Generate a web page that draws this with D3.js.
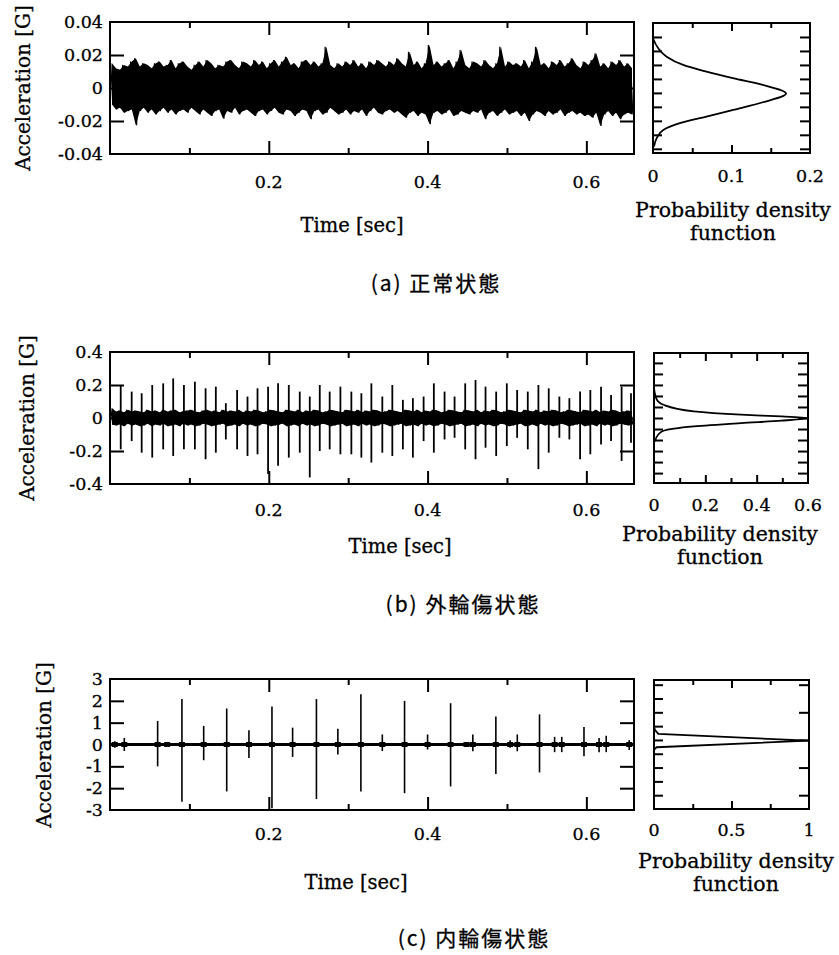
<!DOCTYPE html>
<html><head><meta charset="utf-8">
<script src="https://cdn.jsdelivr.net/npm/d3@7"></script>
<style>body{margin:0;background:#fff}svg{display:block}</style>
</head><body>
<svg id="chart" width="839" height="955"></svg>
<script>
// ---------------- DATA ----------------
const timeDomain = [0, 0.66];
const timeMajorTicks = [0.2, 0.4, 0.6];
const timeMinorTicks = [0.1, 0.3, 0.5];
const timeTickLabels = ["0.2", "0.4", "0.6"];
const binWidth = 0.005; // s, envelope bins of the dense signals

// (a) normal state: per-bin max / min acceleration [G]
const accA_hi = [.015,.012,.011,.014,.013,.016,.018,.013,.015,.014,
  .012,.015,.016,.013,.014,.017,.012,.015,.016,.013,
  .011,.014,.016,.013,.017,.015,.012,.014,.013,.016,
  .017,.014,.012,.016,.015,.013,.017,.014,.016,.012,
  .015,.017,.013,.016,.019,.014,.015,.012,.016,.017,
  .014,.016,.013,.015,.025,.014,.012,.015,.013,.016,
  .014,.017,.013,.015,.012,.016,.014,.017,.015,.013,
  .016,.014,.018,.015,.013,.022,.014,.016,.012,.015,
  .026,.014,.016,.013,.015,.017,.012,.016,.023,.014,
  .012,.016,.015,.013,.017,.014,.012,.015,.025,.013,
  .016,.014,.015,.013,.017,.012,.016,.025,.014,.015,
  .012,.016,.014,.017,.013,.015,.018,.014,.012,.016,
  .014,.017,.021,.013,.015,.012,.016,.014,.017,.013,.015,.012];
const accA_lo = [-.010,-.013,-.012,-.015,-.014,-.013,-.0226,-.014,-.012,-.015,
  -.013,-.016,-.014,-.012,-.015,-.013,-.016,-.014,-.013,-.015,
  -.012,-.014,-.016,-.013,-.015,-.017,-.014,-.013,-.0186,-.014,
  -.015,-.012,-.016,-.014,-.013,-.015,-.017,-.014,-.013,-.016,
  -.014,-.012,-.015,-.016,-.013,-.014,-.017,-.015,-.013,-.014,
  -.019,-.014,-.013,-.016,-.015,-.012,-.014,-.016,-.015,-.013,
  -.016,-.014,-.015,-.013,-.017,-.014,-.012,-.015,-.016,-.014,
  -.013,-.015,-.014,-.016,-.018,-.015,-.014,-.017,-.015,-.016,
  -.022,-.015,-.014,-.016,-.015,-.013,-.017,-.016,-.014,-.015,
  -.016,-.014,-.015,-.013,-.019,-.015,-.014,-.017,-.015,-.013,
  -.016,-.015,-.014,-.017,-.015,-.020,-.016,-.014,-.015,-.017,
  -.014,-.016,-.015,-.013,-.017,-.015,-.014,-.016,-.015,-.017,
  -.016,-.018,-.015,-.023,-.016,-.014,-.017,-.015,-.019,-.016,-.015,-.016];
const accATicks = [-0.04, -0.02, 0, 0.02, 0.04];
const accATickLabels = ["-0.04", "-0.02", "0", "0.02", "0.04"];

// (a) probability density
const pdfA_acc = [0.0391,0.0319,0.0259,0.0200,0.0152,0.0105,0.0057,-0.0005,-0.0067,-0.0122,-0.0170,-0.0217,-0.0265,-0.0324,-0.0384];
const pdfA_val = [0.0,0.0067,0.0174,0.0384,0.0681,0.1018,0.1399,0.1695,0.1399,0.1018,0.0681,0.0342,0.0131,0.0047,0.0013];
const pdfAAccTicks = [-0.04,-0.03,-0.02,-0.01,0,0.01,0.02,0.03,0.04];
const pdfAValTicks = [0.05, 0.1, 0.15];
const pdfALabels = [[0,"0"],[0.1,"0.1"],[0.2,"0.2"]];

// (b) outer-race defect: baseline envelope + impulses
const accB_hi = [.060,.040,.045,.035,.050,.040,.045,.040,.035,.050,
  .040,.045,.035,.050,.040,.045,.050,.035,.040,.045,
  .050,.040,.035,.045,.050,.040,.045,.035,.050,.040,
  .045,.040,.050,.035,.045,.040,.050,.045,.035,.040,
  .050,.045,.040,.035,.050,.045,.040,.050,.035,.045,
  .040,.050,.045,.035,.040,.050,.045,.040,.035,.050,
  .045,.040,.050,.035,.045,.040,.050,.045,.035,.040,
  .050,.045,.040,.035,.050,.045,.040,.050,.035,.045,
  .040,.050,.045,.035,.040,.050,.045,.040,.035,.050,
  .045,.040,.050,.035,.045,.040,.050,.045,.035,.040,
  .050,.045,.040,.035,.050,.045,.040,.050,.035,.045,
  .040,.050,.045,.035,.040,.050,.045,.040,.035,.050,
  .045,.040,.050,.035,.045,.040,.050,.045,.035,.040,.045,.040];
const accB_lo = [-.040,-.045,-.040,-.050,-.035,-.045,-.040,-.050,-.045,-.035,
  -.050,-.040,-.045,-.035,-.050,-.045,-.040,-.050,-.035,-.045,
  -.040,-.050,-.045,-.035,-.040,-.050,-.045,-.040,-.035,-.050,
  -.045,-.040,-.050,-.035,-.045,-.040,-.050,-.045,-.035,-.040,
  -.050,-.045,-.040,-.035,-.050,-.045,-.040,-.050,-.035,-.045,
  -.040,-.050,-.045,-.035,-.040,-.050,-.045,-.040,-.035,-.050,
  -.045,-.040,-.050,-.035,-.045,-.040,-.050,-.045,-.035,-.040,
  -.050,-.045,-.040,-.035,-.050,-.045,-.040,-.050,-.035,-.045,
  -.040,-.050,-.045,-.035,-.040,-.050,-.045,-.040,-.035,-.050,
  -.045,-.040,-.050,-.035,-.045,-.040,-.050,-.045,-.035,-.040,
  -.050,-.045,-.040,-.035,-.050,-.045,-.040,-.050,-.035,-.045,
  -.040,-.050,-.045,-.035,-.040,-.050,-.045,-.040,-.035,-.050,
  -.045,-.040,-.050,-.035,-.045,-.040,-.050,-.045,-.035,-.040,-.045,-.040];
const spikeB_t = [0.0135,0.0273,0.0399,0.0532,0.0670,0.0796,0.0931,0.1069,0.1204,0.1333,
  0.1459,0.1601,0.1732,0.1858,0.1991,0.2117,0.2252,0.2390,0.2516,0.2642,
  0.2767,0.2902,0.3040,0.3166,0.3292,0.3430,0.3556,0.3689,0.3815,0.3950,
  0.4079,0.4214,0.4340,0.4474,0.4604,0.4730,0.4864,0.4998,0.5128,0.5262,
  0.5396,0.5526,0.5660,0.5786,0.5921,0.6050,0.6185,0.6311,0.6444,0.6562];
const spikeB_max = [0.2,0.16,0.15,0.2,0.21,0.24,0.2,0.22,0.18,0.19,
  0.09,0.17,0.13,0.18,0.19,0.21,0.2,0.16,0.13,0.2,
  0.16,0.19,0.16,0.15,0.21,0.13,0.2,0.11,0.12,0.13,
  0.21,0.16,0.13,0.21,0.23,0.19,0.16,0.21,0.17,0.16,
  0.2,0.18,0.13,0.12,0.16,0.17,0.19,0.14,0.19,0.15];
const spikeB_min = [-0.19,-0.14,-0.21,-0.24,-0.19,-0.23,-0.19,-0.19,-0.25,-0.21,
  -0.13,-0.19,-0.23,-0.22,-0.34,-0.29,-0.24,-0.21,-0.36,-0.2,
  -0.19,-0.22,-0.22,-0.24,-0.27,-0.21,-0.23,-0.19,-0.24,-0.14,
  -0.21,-0.13,-0.12,-0.19,-0.25,-0.18,-0.23,-0.17,-0.12,-0.19,
  -0.31,-0.21,-0.12,-0.13,-0.25,-0.22,-0.16,-0.14,-0.26,-0.15];
const accBTicks = [-0.4, -0.2, 0, 0.2, 0.4];
const accBTickLabels = ["-0.4", "-0.2", "0", "0.2", "0.4"];

const pdfB_acc = [0.136,0.083,0.060,0.030,0.015,0.007,0,-0.012,-0.023,-0.038,-0.058,-0.076,-0.106];
const pdfB_val = [0,0.011,0.037,0.155,0.339,0.497,0.6,0.497,0.339,0.155,0.037,0.016,0.004];
const pdfBAccTicks = [-0.25,-0.2,-0.15,-0.1,-0.05,0,0.05,0.1,0.15,0.2,0.25];
const pdfBValTicks = [0.1,0.2,0.3,0.4,0.5];
const pdfBLabels = [[0,"0"],[0.2,"0.2"],[0.4,"0.4"],[0.6,"0.6"]];

// (c) inner-race defect: impulses
const spikeC_t = [0.006,0.018,0.060,0.072,0.0906,0.118,0.147,0.175,0.204,0.230,
  0.260,0.287,0.316,0.343,0.371,0.400,0.429,0.449,0.457,0.486,
  0.504,0.513,0.541,0.560,0.569,0.597,0.616,0.625,0.654];
const spikeC_max = [0.15,0.3,1.08,0.12,2.08,0.85,1.65,0.65,1.74,0.77,
  2.08,0.72,2.3,0.46,2.0,0.46,1.89,0.1,0.46,1.28,
  0.2,0.46,1.38,0.35,0.35,0.8,0.3,0.4,0.2];
const spikeC_min = [-0.15,-0.3,-1.0,-0.12,-2.62,-0.72,-2.15,-0.62,-2.92,-0.57,
  -2.5,-0.46,-2.15,-0.3,-2.23,-0.23,-1.92,-0.1,-0.31,-1.35,
  -0.15,-0.31,-1.28,-0.35,-0.35,-0.54,-0.35,-0.35,-0.25];
const accCTicks = [-3,-2,-1,0,1,2,3];
const accCTickLabels = ["-3","-2","-1","0","1","2","3"];

const pdfC_acc = [0.48,0.36,0.217,-0.025,-0.264,-0.36];
const pdfC_val = [0,0.0065,0.028,1.0,0.017,0];
const pdfCAccTicksLeft = [-2,-1.5,-1,-0.5,0,0.5,1,1.5,2];
const pdfCAccTicksRight = [-2,-1,0,1,2];
const pdfCValTicks = [0.25,0.5,0.75];
const pdfCLabels = [[0,"0"],[0.5,"0.5"],[1,"1"]];

const yTitle = "Acceleration [G]";
const xTitle = "Time [sec]";
const pdfTitle1 = "Probability density";
const pdfTitle2 = "function";
const captions = ["(a) 正常状態", "(b) 外輪傷状態", "(c) 内輪傷状態"];

// ---------------- DRAWING ----------------
const svg = d3.select("#chart");
const SERIF = "'DejaVu Serif', 'Liberation Serif', serif";
const CJK = "'Noto Sans CJK JP', 'Noto Sans', sans-serif";
let clipId = 0;

function ink(sel, w) { return sel.attr("fill", "#000").attr("stroke", "#000").attr("stroke-width", w); }

function inwardAxis(g, axisFn, scale, values, size, transform) {
  const a = g.append("g").attr("transform", transform)
    .call(axisFn(scale).tickValues(values).tickSize(-size).tickFormat(""));
  a.select(".domain").remove();
  a.selectAll("line").attr("stroke", "#000").attr("stroke-width", 2);
}

function frame(g, L) {
  g.append("rect").attr("x", L.left).attr("y", L.top)
    .attr("width", L.right - L.left).attr("height", L.bottom - L.top)
    .attr("fill", "none").attr("stroke", "#000").attr("stroke-width", 2);
}

function timePanel(L, yDomain, yTicks, yLabels, drawSignal) {
  const g = svg.append("g");
  const x = d3.scaleLinear().domain(timeDomain).range([L.left, L.right]);
  const y = d3.scaleLinear().domain(yDomain).range([L.bottom, L.top]);
  const id = "clip" + (clipId++);
  g.append("clipPath").attr("id", id).append("rect")
    .attr("x", L.left).attr("y", L.top).attr("width", L.right - L.left).attr("height", L.bottom - L.top);
  const sg = g.append("g").attr("clip-path", `url(#${id})`);
  drawSignal(sg, x, y);
  frame(g, L);
  inwardAxis(g, d3.axisTop, x, timeMajorTicks, 13, `translate(0,${L.top})`);
  inwardAxis(g, d3.axisBottom, x, timeMajorTicks, 13, `translate(0,${L.bottom})`);
  inwardAxis(g, d3.axisTop, x, timeMinorTicks, 6, `translate(0,${L.top})`);
  inwardAxis(g, d3.axisBottom, x, timeMinorTicks, 6, `translate(0,${L.bottom})`);
  const inner = yTicks.slice(1, -1);
  inwardAxis(g, d3.axisLeft, y, inner, 14, `translate(${L.left},0)`);
  inwardAxis(g, d3.axisRight, y, inner, 14, `translate(${L.right},0)`);
  g.selectAll(".yl").data(yTicks).enter().append("text")
    .attr("x", 103).attr("y", d => y(d)).attr("text-anchor", "end")
    .attr("dominant-baseline", "central").attr("font-family", SERIF).attr("font-size", 17.5)
    .call(ink, 0.3).text((d, i) => yLabels[i]);
  g.selectAll(".xl").data(timeMajorTicks).enter().append("text")
    .attr("x", d => x(d)).attr("y", L.xLabelY).attr("text-anchor", "middle")
    .attr("font-family", SERIF).attr("font-size", 17.5)
    .call(ink, 0.3).text((d, i) => timeTickLabels[i]);
  g.append("text").attr("transform", `translate(${L.yTitleX},${L.yTitleY}) rotate(-90)`)
    .attr("text-anchor", "middle").attr("dominant-baseline", "central")
    .attr("font-family", SERIF).attr("font-size", 20).call(ink, 0.3).text(yTitle);
  g.append("text").attr("x", L.xTitleX).attr("y", L.xTitleY).attr("text-anchor", "middle")
    .attr("font-family", SERIF).attr("font-size", 19.5).call(ink, 0.3).text(xTitle);
  return {x, y};
}

function pdfPanel(L, pdfDomain, accDomain, accTicksL, accTicksR, valTicks, labels, accs, vals, curve) {
  const g = svg.append("g");
  const x = d3.scaleLinear().domain(pdfDomain).range([L.left, L.right]);
  const y = d3.scaleLinear().domain(accDomain).range([L.bottom, L.top]);
  const pts = accs.map((a, i) => [vals[i], a]);
  g.append("path").datum(pts)
    .attr("d", d3.line().x(d => x(d[0])).y(d => y(d[1])).curve(curve))
    .attr("fill", "none").attr("stroke", "#000").attr("stroke-width", 1.8);
  frame(g, L);
  const labelled = labels.map(l => l[0]);
  const major = valTicks.filter(v => labelled.includes(v));
  const minor = valTicks.filter(v => !labelled.includes(v));
  inwardAxis(g, d3.axisTop, x, major, 8, `translate(0,${L.top})`);
  inwardAxis(g, d3.axisBottom, x, major, 8, `translate(0,${L.bottom})`);
  inwardAxis(g, d3.axisTop, x, minor, 5, `translate(0,${L.top})`);
  inwardAxis(g, d3.axisBottom, x, minor, 5, `translate(0,${L.bottom})`);
  inwardAxis(g, d3.axisLeft, y, accTicksL, 9, `translate(${L.left},0)`);
  inwardAxis(g, d3.axisRight, y, accTicksR, 10, `translate(${L.right},0)`);
  g.selectAll(".pl").data(labels).enter().append("text")
    .attr("x", d => x(d[0])).attr("y", L.xLabelY).attr("text-anchor", "middle")
    .attr("font-family", SERIF).attr("font-size", 17.5).call(ink, 0.3).text(d => d[1]);
  g.append("text").attr("x", L.titleX).attr("y", L.title1Y).attr("text-anchor", "middle")
    .attr("font-family", SERIF).attr("font-size", 20.5).call(ink, 0.3).text(pdfTitle1);
  g.append("text").attr("x", L.titleX).attr("y", L.title2Y).attr("text-anchor", "middle")
    .attr("font-family", SERIF).attr("font-size", 20.5).call(ink, 0.3).text(pdfTitle2);
}

function caption(text, cx, by) {
  svg.append("text").attr("x", cx).attr("y", by).attr("text-anchor", "middle")
    .attr("font-family", CJK).attr("font-size", 21).attr("letter-spacing", 2)
    .call(ink, 0.3).text(text);
}

// dense signal: solid band between per-bin max/min plus a zig-zag through them
function drawEnvelope(g, x, y, hi, lo) {
  const pts = hi.map((h, i) => ({t: (i + 0.5) * binWidth, h, l: lo[i]}));
  g.append("path").datum(pts)
    .attr("d", d3.area().x(d => x(d.t)).y0(d => y(d.l)).y1(d => y(d.h)))
    .attr("fill", "#000");
  const zz = [];
  hi.forEach((h, i) => { zz.push([(i + 0.2) * binWidth, h]); zz.push([(i + 0.7) * binWidth, lo[i]]); });
  g.append("path").datum(zz)
    .attr("d", d3.line().x(d => x(d[0])).y(d => y(d[1])))
    .attr("fill", "none").attr("stroke", "#000").attr("stroke-width", 1.2);
}

// ---- (a)
timePanel({left:110,right:634,top:22,bottom:154,xLabelY:188,yTitleX:23,yTitleY:88,xTitleX:352,xTitleY:232},
  [-0.04, 0.04], accATicks, accATickLabels, (g, x, y) => drawEnvelope(g, x, y, accA_hi, accA_lo));
pdfPanel({left:653,right:810,top:23,bottom:153,xLabelY:182,titleX:733,title1Y:217,title2Y:240},
  [0, 0.2], [-0.043, 0.05], pdfAAccTicks, pdfAAccTicks, pdfAValTicks, pdfALabels,
  pdfA_acc, pdfA_val, d3.curveMonotoneY);
caption(captions[0], 436, 291);

// ---- (b)
timePanel({left:110,right:634,top:352,bottom:484,xLabelY:516,yTitleX:27,yTitleY:418,xTitleX:400,xTitleY:553},
  [-0.4, 0.4], accBTicks, accBTickLabels, (g, x, y) => {
    drawEnvelope(g, x, y, accB_hi, accB_lo);
    g.selectAll(".sp").data(spikeB_t).enter().append("line")
      .attr("x1", d => x(d)).attr("x2", d => x(d))
      .attr("y1", (d, i) => y(spikeB_max[i])).attr("y2", (d, i) => y(spikeB_min[i]))
      .attr("stroke", "#000").attr("stroke-width", 1.8);
  });
pdfPanel({left:654,right:808,top:353,bottom:483,xLabelY:511,titleX:720,title1Y:541,title2Y:564},
  [0, 0.6], [-0.295, 0.295], pdfBAccTicks, pdfBAccTicks, pdfBValTicks, pdfBLabels,
  pdfB_acc, pdfB_val, d3.curveMonotoneY);
caption(captions[1], 463, 612);

// ---- (c)
timePanel({left:110,right:634,top:679,bottom:810,xLabelY:840,yTitleX:44,yTitleY:745,xTitleX:356,xTitleY:889},
  [-3, 3], accCTicks, accCTickLabels, (g, x, y) => {
    g.append("line").attr("x1", x(timeDomain[0])).attr("x2", x(timeDomain[1]))
      .attr("y1", y(0)).attr("y2", y(0)).attr("stroke", "#000").attr("stroke-width", 3);
    g.selectAll(".sp").data(spikeC_t).enter().append("line")
      .attr("x1", d => x(d)).attr("x2", d => x(d))
      .attr("y1", (d, i) => y(spikeC_max[i])).attr("y2", (d, i) => y(spikeC_min[i]))
      .attr("stroke", "#000").attr("stroke-width", 1.6);
    g.selectAll(".bl").data(spikeC_t).enter().append("line")
      .attr("x1", d => x(d) - 3).attr("x2", d => x(d) + 3)
      .attr("y1", y(0)).attr("y2", y(0))
      .attr("stroke", "#000").attr("stroke-width", 5);
  });
pdfPanel({left:654,right:809,top:680,bottom:809,xLabelY:836,titleX:736,title1Y:868,title2Y:891},
  [0, 1], [-2.5, 2.17], pdfCAccTicksLeft, pdfCAccTicksRight, pdfCValTicks, pdfCLabels,
  pdfC_acc, pdfC_val, d3.curveLinear);
caption(captions[2], 474, 946);
</script>
</body></html>
